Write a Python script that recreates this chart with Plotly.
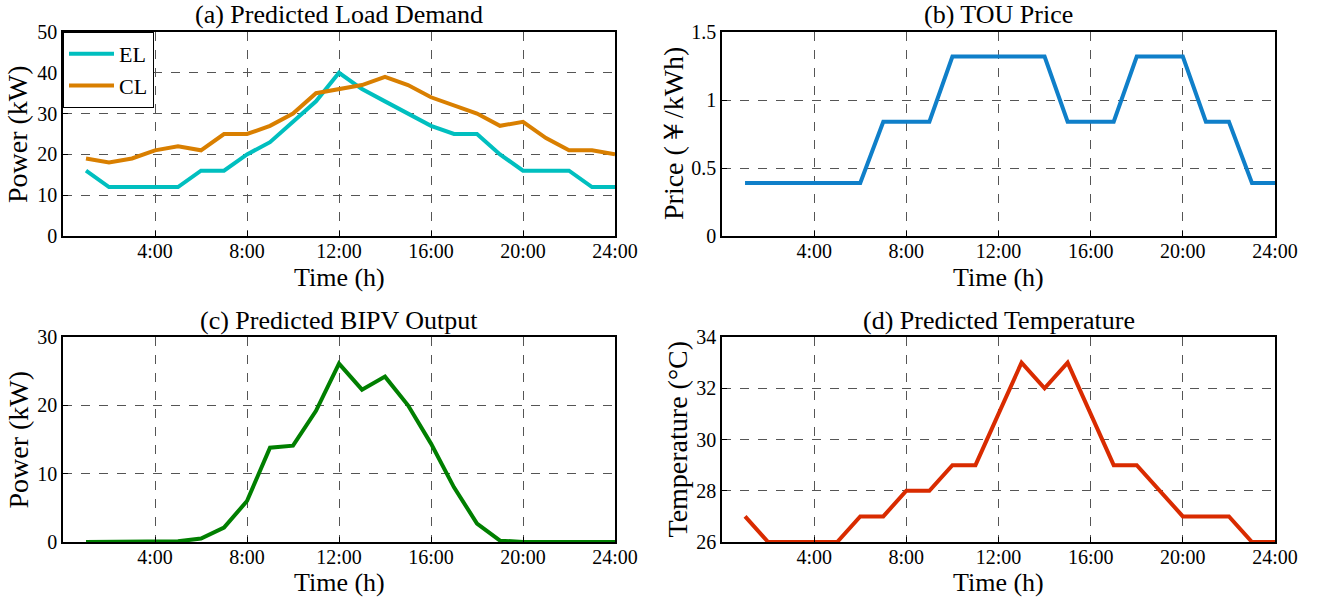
import plotly.graph_objects as go

hours = list(range(1, 25))
el_load = [16, 12, 12, 12, 12, 16, 16, 20, 23, 28, 33, 40, 36, 33, 30, 27, 25, 25, 20, 16, 16, 16, 12, 12]
cl_load = [19, 18, 19, 21, 22, 21, 25, 25, 27, 30, 35, 36, 37, 39, 37, 34, 32, 30, 27, 28, 24, 21, 21, 20]
tou_price = [0.39, 0.39, 0.39, 0.39, 0.39, 0.39, 0.84, 0.84, 0.84, 1.32, 1.32, 1.32, 1.32, 1.32,
             0.84, 0.84, 0.84, 1.32, 1.32, 1.32, 0.84, 0.84, 0.39, 0.39]
pv_output = [0, 0, 0, 0, 0.1, 0.5, 2.1, 6.0, 13.8, 14.1, 19.2, 26.1, 22.3, 24.2, 20.0, 14.4, 8.0, 2.7,
             0.2, 0, 0, 0, 0, 0]
temperature = [27, 26, 26, 26, 26, 27, 27, 28, 28, 29, 29, 31, 33, 32, 33, 31, 29, 29, 28, 27, 27, 27, 26, 26]

x_tickvals = [4, 8, 12, 16, 20, 24]
x_ticktext = ["4:00", "8:00", "12:00", "16:00", "20:00", "24:00"]

FONT = "Liberation Serif, Times New Roman, serif"
W, H = 1322, 598


def px(p):
    return p / W


def py(p):
    return 1 - p / H


fig = go.Figure()
lw = 4
fig.add_trace(go.Scatter(x=hours, y=el_load, mode="lines", name="EL",
                         line=dict(color="#00BFBF", width=lw), xaxis="x", yaxis="y"))
fig.add_trace(go.Scatter(x=hours, y=cl_load, mode="lines", name="CL",
                         line=dict(color="#D97F00", width=lw), xaxis="x", yaxis="y"))
fig.add_trace(go.Scatter(x=hours, y=tou_price, mode="lines", name="Price", showlegend=False,
                         line=dict(color="#0F7FC9", width=lw), xaxis="x2", yaxis="y2"))
fig.add_trace(go.Scatter(x=hours, y=pv_output, mode="lines", name="PV", showlegend=False,
                         line=dict(color="#007F00", width=lw), xaxis="x3", yaxis="y3"))
fig.add_trace(go.Scatter(x=hours, y=temperature, mode="lines", name="Temp", showlegend=False,
                         line=dict(color="#D92B00", width=lw), xaxis="x4", yaxis="y4"))

# page-pixel boxes: (left, right, top, bottom)
boxes = {
    1: (63, 615, 32, 236),
    2: (722, 1275, 32, 236),
    3: (63, 615, 337, 542),
    4: (722, 1275, 337, 542),
}
ycfg = {
    1: dict(range=[0, 50], tickvals=[0, 10, 20, 30, 40, 50], ticktext=["0", "10", "20", "30", "40", "50"], title="Power (kW)", tx=18),
    2: dict(range=[0, 1.5], tickvals=[0, 0.5, 1, 1.5], ticktext=["0", "0.5", "1", "1.5"], title="Price (￥/kWh)", tx=674),
    3: dict(range=[0, 30], tickvals=[0, 10, 20, 30], ticktext=["0", "10", "20", "30"], title="Power (kW)", tx=18),
    4: dict(range=[26, 34], tickvals=[26, 28, 30, 32, 34], ticktext=["26", "28", "30", "32", "34"], title="Temperature (°C)", tx=677),
}
titles = {1: "(a) Predicted Load Demand", 2: "(b) TOU Price",
          3: "(c) Predicted BIPV Output", 4: "(d) Predicted Temperature"}
title_y = {1: 15, 2: 15, 3: 320, 4: 320}
xlab_y = {1: 277, 2: 277, 3: 582, 4: 582}

TICK = 20
LAB = 26
YLAB = 28

layout = dict(
    width=W, height=H, margin=dict(l=0, r=0, t=0, b=0),
    paper_bgcolor="white", plot_bgcolor="white",
    font=dict(family=FONT, size=TICK, color="black"),
    showlegend=True,
    legend=dict(x=px(63), y=py(32), xanchor="left", yanchor="top",
                bordercolor="black", borderwidth=1, bgcolor="white",
                font=dict(family=FONT, size=22), itemwidth=45, tracegroupgap=0),
)
annotations = []
for i in range(1, 5):
    l, r, t, b = boxes[i]
    suffix = "" if i == 1 else str(i)
    common = dict(showline=True, linecolor="black", linewidth=1.5, mirror=True,
                  showgrid=True, gridcolor="#555555", griddash="dash", gridwidth=1,
                  ticks="inside", ticklen=5, tickcolor="black", zeroline=False,
                  automargin=False,
                  tickfont=dict(family=FONT, size=TICK, color="black"))
    layout["xaxis" + suffix] = dict(
        domain=[px(l), px(r)], range=[0, 24], tickvals=x_tickvals, ticktext=x_ticktext,
        anchor="y" + suffix, ticklabelstandoff=-4, **common)
    yc = ycfg[i]
    layout["yaxis" + suffix] = dict(
        domain=[py(b), py(t)], range=yc["range"], tickvals=yc["tickvals"],
        ticktext=yc["ticktext"], anchor="x" + suffix, **common)
    annotations.append(dict(text=titles[i], x=px((l + r) / 2), y=py(title_y[i]),
                            xref="paper", yref="paper", xanchor="center", yanchor="middle",
                            showarrow=False, font=dict(family=FONT, size=LAB, color="black")))
    annotations.append(dict(text="Time (h)", x=px((l + r) / 2), y=py(xlab_y[i]),
                            xref="paper", yref="paper", xanchor="center", yanchor="middle",
                            showarrow=False, font=dict(family=FONT, size=LAB, color="black")))
    annotations.append(dict(text=yc["title"], x=px(yc["tx"]), y=py((t + b) / 2), textangle=-90,
                            xref="paper", yref="paper", xanchor="center", yanchor="middle",
                            showarrow=False, font=dict(family=FONT, size=YLAB, color="black")))
layout["annotations"] = annotations
fig.update_layout(**layout)
fig.write_html("out.html", config={"displayModeBar": False},
               post_script="document.body.style.margin='0px';document.body.style.overflow='hidden';")
